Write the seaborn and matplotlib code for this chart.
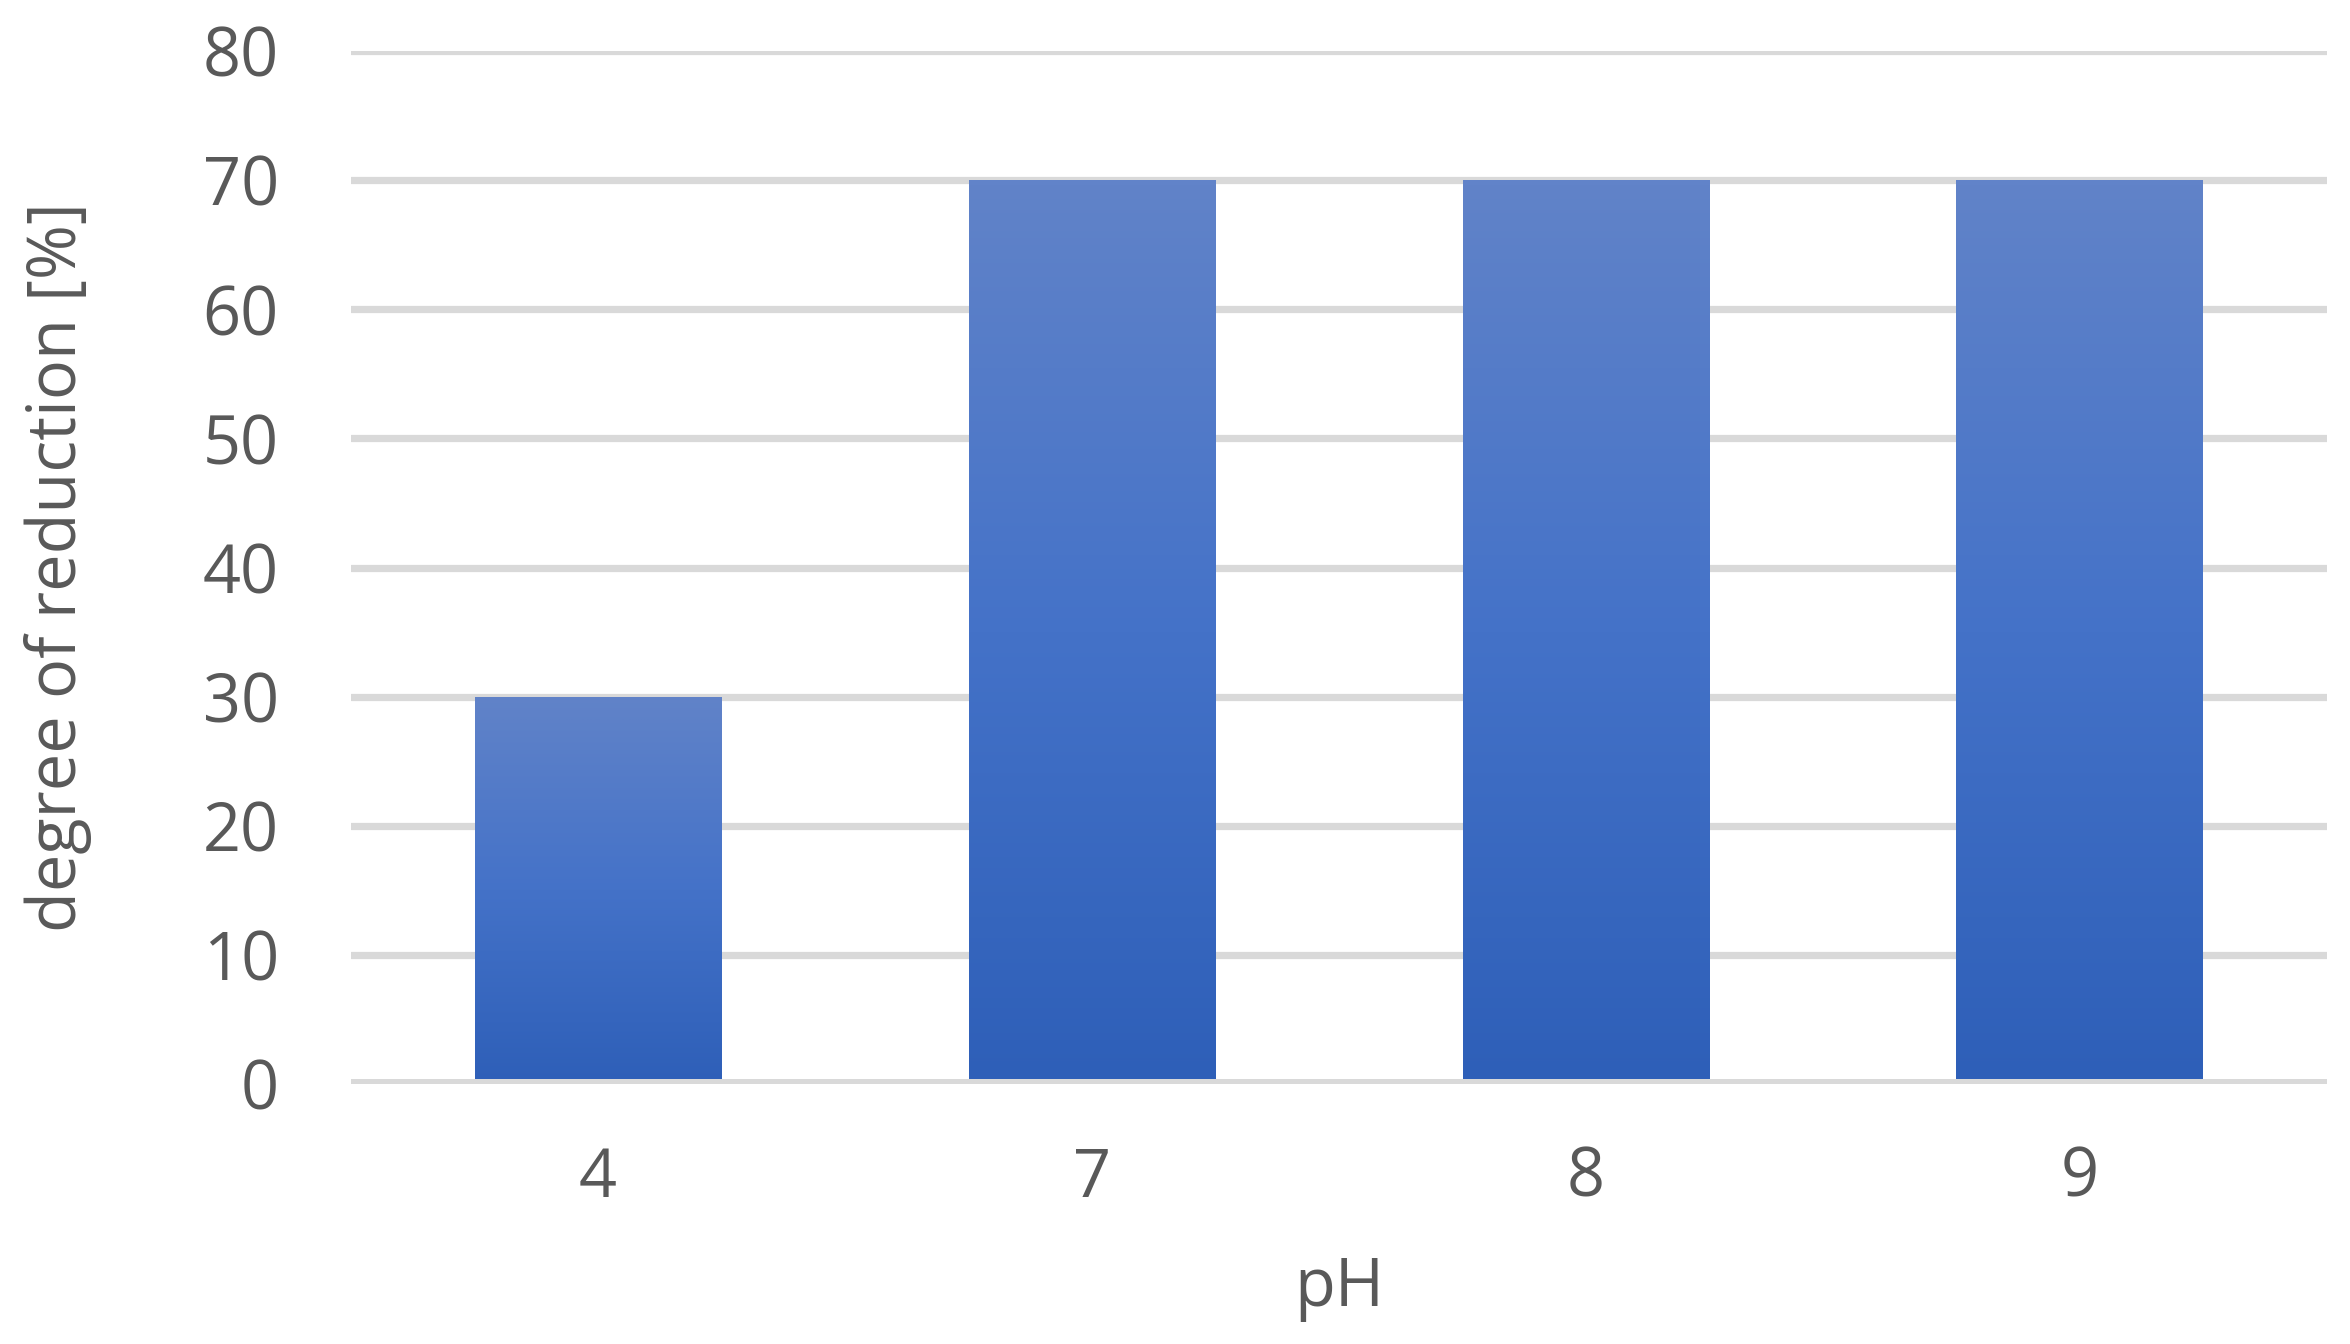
import matplotlib
matplotlib.use("Agg")
import matplotlib.pyplot as plt
from matplotlib.colors import LinearSegmentedColormap
import seaborn as sns
import pandas as pd
import numpy as np

# ===================== DATOS =====================

ph_values = ["4", "7", "8", "9"]
reduction = [30, 70, 70, 70]
y_ticks = [0, 10, 20, 30, 40, 50, 60, 70, 80]

x_label = "pH"
y_label = "degree of reduction [%]"

# ===================== ESTILO =====================

text_color = "#595959"
grid_color = "#D9D9D9"
bar_cmap = LinearSegmentedColormap.from_list(
    "excel_blue", ["#2E5FB8", "#4472C8", "#6183C9"]
)

sns.set_theme(style="white")
plt.rcParams["font.family"] = ["Open Sans", "DejaVu Sans"]

df = pd.DataFrame({"pH": ph_values, "reduction": reduction})

# ===================== FIGURA =====================

fig = plt.figure(figsize=(23.5, 13.44), dpi=100)
ax = fig.add_axes([0.1494, 0.1935, 0.9902 - 0.1494, 0.962 - 0.1935])

sns.barplot(
    data=df,
    x="pH",
    y="reduction",
    color="#4472C4",
    width=0.5,
    linewidth=0,
    ax=ax,
    zorder=2,
)

# Degradado vertical dentro de cada barra
gradient = np.linspace(0, 1, 256).reshape(-1, 1)
for patch in ax.patches:
    x0 = patch.get_x()
    w = patch.get_width()
    h = patch.get_height()
    img = ax.imshow(
        gradient,
        cmap=bar_cmap,
        origin="lower",
        extent=[x0, x0 + w, 0, h],
        aspect="auto",
        zorder=2.5,
        interpolation="bicubic",
    )
    img.set_clip_path(patch)

ax.set_xlim(-0.5, len(ph_values) - 0.5)
ax.set_ylim(0, 80)
ax.set_yticks(y_ticks)

# Rejilla horizontal
for t in y_ticks[1:]:
    ax.axhline(t, color=grid_color, linewidth=5.2, zorder=1)
ax.axhline(0, color=grid_color, linewidth=7.2, zorder=4)

for side in ["top", "right", "left", "bottom"]:
    ax.spines[side].set_visible(False)

ax.tick_params(axis="both", length=0, labelsize=48, colors=text_color)
ax.tick_params(axis="y", pad=52)
ax.tick_params(axis="x", pad=44)

ax.set_xlabel(x_label, fontsize=48, color=text_color, labelpad=30)
ax.set_ylabel(y_label, fontsize=48, color=text_color, labelpad=80)

fig.savefig("out.png", dpi=100, facecolor="white")
